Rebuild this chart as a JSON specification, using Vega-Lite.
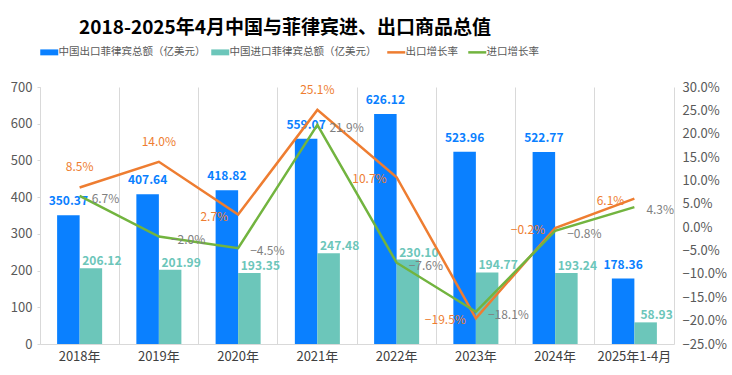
{
  "$schema": "https://vega.github.io/schema/vega-lite/v6.json",
  "autosize": {"type": "none"},
  "width": 634,
  "height": 257,
  "padding": {"left": 40, "top": 87, "right": 58, "bottom": 31},
  "background": "#ffffff",
  "config": {
    "font": "Noto Sans CJK SC",
    "view": {"stroke": null},
    "axis": {"labelColor": "#595959", "domainColor": "#D9D9D9", "tickColor": "#D9D9D9", "gridColor": "#D9D9D9", "titleColor": "#595959"}
  },
  "title": {"text": "2018-2025年4月中国与菲律宾进、出口商品总值", "anchor": "middle", "dx": -72, "fontSize": 19, "fontWeight": "bold", "color": "#000000", "offset": 9},
  "datasets": {
    "bars": [
      {"year": "2018年", "series": "中国出口菲律宾总额（亿美元）", "value": 350.37},
      {"year": "2018年", "series": "中国进口菲律宾总额（亿美元）", "value": 206.12},
      {"year": "2019年", "series": "中国出口菲律宾总额（亿美元）", "value": 407.64},
      {"year": "2019年", "series": "中国进口菲律宾总额（亿美元）", "value": 201.99},
      {"year": "2020年", "series": "中国出口菲律宾总额（亿美元）", "value": 418.82},
      {"year": "2020年", "series": "中国进口菲律宾总额（亿美元）", "value": 193.35},
      {"year": "2021年", "series": "中国出口菲律宾总额（亿美元）", "value": 559.07},
      {"year": "2021年", "series": "中国进口菲律宾总额（亿美元）", "value": 247.48},
      {"year": "2022年", "series": "中国出口菲律宾总额（亿美元）", "value": 626.12},
      {"year": "2022年", "series": "中国进口菲律宾总额（亿美元）", "value": 230.10},
      {"year": "2023年", "series": "中国出口菲律宾总额（亿美元）", "value": 523.96},
      {"year": "2023年", "series": "中国进口菲律宾总额（亿美元）", "value": 194.77},
      {"year": "2024年", "series": "中国出口菲律宾总额（亿美元）", "value": 522.77},
      {"year": "2024年", "series": "中国进口菲律宾总额（亿美元）", "value": 193.24},
      {"year": "2025年1-4月", "series": "中国出口菲律宾总额（亿美元）", "value": 178.36},
      {"year": "2025年1-4月", "series": "中国进口菲律宾总额（亿美元）", "value": 58.93}
    ],
    "growth": [
      {"year": "2018年", "series": "出口增长率", "rate": 0.085},
      {"year": "2019年", "series": "出口增长率", "rate": 0.140},
      {"year": "2020年", "series": "出口增长率", "rate": 0.027},
      {"year": "2021年", "series": "出口增长率", "rate": 0.251},
      {"year": "2022年", "series": "出口增长率", "rate": 0.107},
      {"year": "2023年", "series": "出口增长率", "rate": -0.195},
      {"year": "2024年", "series": "出口增长率", "rate": -0.002},
      {"year": "2025年1-4月", "series": "出口增长率", "rate": 0.061},
      {"year": "2018年", "series": "进口增长率", "rate": 0.067},
      {"year": "2019年", "series": "进口增长率", "rate": -0.020},
      {"year": "2020年", "series": "进口增长率", "rate": -0.045},
      {"year": "2021年", "series": "进口增长率", "rate": 0.219},
      {"year": "2022年", "series": "进口增长率", "rate": -0.076},
      {"year": "2023年", "series": "进口增长率", "rate": -0.181},
      {"year": "2024年", "series": "进口增长率", "rate": -0.008},
      {"year": "2025年1-4月", "series": "进口增长率", "rate": 0.043}
    ]
  },
  "encoding": {
    "x": {
      "field": "year", "type": "nominal", "sort": null,
      "scale": {"paddingInner": 0, "paddingOuter": 0},
      "axis": {"title": null, "labelAngle": 0, "labelFontSize": 13, "labelColor": "#404040", "ticks": false, "grid": true, "bandPosition": 0, "labelPadding": 6, "domainColor": "#D9D9D9"}
    }
  },
  "layer": [
    {
      "data": {"name": "bars"},
      "encoding": {
        "y": {"field": "value", "type": "quantitative", "scale": {"domain": [0, 700]}, "axis": {"title": null, "values": [0, 100, 200, 300, 400, 500, 600, 700], "labelOverlap": false, "labelFontSize": 13, "grid": false, "tickSize": 3, "labelPadding": 5, "domain": true}},
        "xOffset": {"field": "series", "type": "nominal", "sort": ["中国出口菲律宾总额（亿美元）", "中国进口菲律宾总额（亿美元）"], "scale": {"paddingInner": 0, "paddingOuter": 0.76}}
      },
      "layer": [
        {
          "mark": {"type": "bar"},
          "encoding": {
            "color": {
              "field": "series", "type": "nominal",
              "scale": {"domain": ["中国出口菲律宾总额（亿美元）", "中国进口菲律宾总额（亿美元）", "出口增长率", "进口增长率"], "range": ["#0A80FF", "#6CC6BA", "#EE7D31", "#72B43F"]},
              "legend": {
                "title": null, "orient": "none", "legendX": 4, "legendY": -40, "direction": "horizontal",
                "labelFontSize": 10.5, "labelColor": "#595959", "symbolSize": 324, "columnPadding": 5, "labelOffset": 4,
                "encode": {
                  "symbols": {"update": {
                    "shape": {"signal": "(datum.value === '出口增长率' || datum.value === '进口增长率') ? 'M-1,0H1' : 'M-1,-0.33H1V0.33H-1Z'"},
                    "fill": {"signal": "(datum.value === '出口增长率' || datum.value === '进口增长率') ? 'transparent' : scale('color', datum.value)"},
                    "stroke": {"signal": "scale('color', datum.value)"},
                    "strokeWidth": {"signal": "(datum.value === '出口增长率' || datum.value === '进口增长率') ? 2.5 : 0"},
                    "opacity": {"value": 1}
                  }}
                }
              }
            }
          }
        },
        {
          "transform": [{"filter": "datum.series === '中国出口菲律宾总额（亿美元）'"}],
          "mark": {"type": "text", "fontWeight": "bold", "fontSize": 12, "baseline": "alphabetic", "dy": -10, "color": "#0A80FF"},
          "encoding": {"text": {"field": "value", "type": "quantitative", "format": ".2f"}}
        },
        {
          "transform": [{"filter": "datum.series === '中国进口菲律宾总额（亿美元）'"}],
          "mark": {"type": "text", "fontWeight": "bold", "fontSize": 12, "baseline": "alphabetic", "dy": -3, "dx": 11, "color": "#6CC6BA"},
          "encoding": {"text": {"field": "value", "type": "quantitative", "format": ".2f"}}
        }
      ]
    },
    {
      "data": {"name": "growth"},
      "encoding": {
        "y": {"field": "rate", "type": "quantitative", "scale": {"domain": [-0.25, 0.30]}, "axis": {"orient": "right", "title": null, "values": [-0.25, -0.20, -0.15, -0.10, -0.05, 0, 0.05, 0.10, 0.15, 0.20, 0.25, 0.30], "format": ".1%", "labelOverlap": false, "labelFontSize": 13, "grid": false, "ticks": false, "labelPadding": 8, "domain": true}}
      },
      "layer": [
        {
          "mark": {"type": "line", "strokeWidth": 2.5},
          "encoding": {"color": {"field": "series", "type": "nominal"}}
        },
        {
          "transform": [{"filter": "datum.series === '出口增长率' && indexof(['2018年','2019年','2021年'], datum.year) >= 0"}],
          "mark": {"type": "text", "fontSize": 12, "align": "center", "baseline": "middle", "dy": -20, "color": "#EE7D31"},
          "encoding": {"text": {"field": "rate", "type": "quantitative", "format": ".1%"}}
        },
        {
          "transform": [{"filter": "datum.series === '出口增长率' && indexof(['2018年','2019年','2021年'], datum.year) < 0"}],
          "mark": {"type": "text", "fontSize": 12, "align": "right", "baseline": "middle", "dx": -10, "dy": 2, "color": "#EE7D31"},
          "encoding": {"text": {"field": "rate", "type": "quantitative", "format": ".1%"}}
        },
        {
          "transform": [{"filter": "datum.series === '进口增长率'"}],
          "mark": {"type": "text", "fontSize": 12, "align": "left", "baseline": "middle", "dx": 12, "dy": 3, "color": "#7F7F7F"},
          "encoding": {"text": {"field": "rate", "type": "quantitative", "format": ".1%"}}
        }
      ]
    }
  ],
  "resolve": {"scale": {"y": "independent"}}
}
